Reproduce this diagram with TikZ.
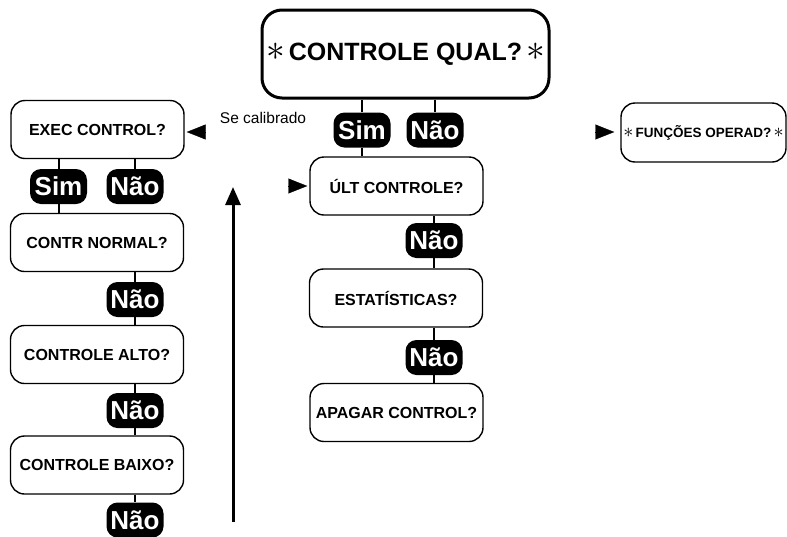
\documentclass[tikz,border=0pt]{standalone}
\usepackage{fontspec}
\setmainfont{Liberation Sans}
\usetikzlibrary{shapes.geometric, arrows.meta}
\tikzstyle{headbox} = [rectangle, rounded corners=20pt, minimum width=287pt, minimum height=88pt, text centered, draw=black, line width=3pt, font=\bfseries\fontsize{25}{30}\selectfont]
\tikzstyle{question} = [rectangle, rounded corners=14pt, minimum width=173pt, minimum height=58pt, inner sep=0pt, text centered, draw=black, line width=1.4pt, font=\bfseries\fontsize{16}{19}\selectfont]
\tikzstyle{answer} = [rectangle, rounded corners=11pt, minimum width=57pt, minimum height=35pt, inner sep=0pt, fill=black, text=white, font=\bfseries\fontsize{26}{30}\selectfont]
\tikzstyle{link} = [line width=2pt]
\tikzstyle{pointer} = [-{Triangle[length=19pt,width=15pt]}]
\tikzstyle{uparrow} = [line width=3pt, -{Triangle[length=18pt,width=15pt]}]
\newcommand{\menustar}[1]{{\mdseries\scalebox{#1}{$\ast$}}}

\begin{document}
\begin{tikzpicture}[x=1pt, y=-1pt]
    \useasboundingbox (0,0) rectangle (787,536);
    % middle column
    \node (head) [headbox] at (405.5,54) {\raisebox{-5pt}{\menustar{1.5}\,CONTROLE QUAL?\,\menustar{1.5}}};
    \node (sim0) [answer] at (362,130) {Sim};
    \node (nao0) [answer] at (435,130) {Não};
    \node (ult) [question] at (396.5,186) {ÚLT CONTROLE?};
    \node (nao1) [answer] at (434,240.5) {Não};
    \node (estat) [question] at (396,298) {ESTATÍSTICAS?};
    \node (nao2) [answer] at (434,357.5) {Não};
    \node (apagar) [question] at (396.5,412.5) {APAGAR CONTROL?};
    % left column
    \node (exec) [question] at (97.5,129.5) {EXEC CONTROL?};
    \node (simL) [answer] at (58.5,186.5) {Sim};
    \node (naoL) [answer] at (135,186.5) {Não};
    \node (normal) [question] at (97,242.5) {CONTR NORMAL?};
    \node (nao3) [answer] at (135,299.5) {Não};
    \node (alto) [question] at (97,354.5) {CONTROLE ALTO?};
    \node (nao4) [answer] at (135,410.5) {Não};
    \node (baixo) [question] at (97,465) {CONTROLE BAIXO?};
    \node (nao5) [answer] at (135,520) {Não};
    % right side
    \node (funcoes) [question, minimum width=165pt, minimum height=59pt, font=\bfseries\fontsize{13.5}{16}\selectfont] at (703.5,132.5) {\menustar{1.4}\,FUNÇÕES OPERAD?\,\menustar{1.4}};
    \node (calib) [font=\fontsize{15.5}{18}\selectfont] at (263,118) {Se calibrado};
    \coordinate (toexec) at (204,132);
    \coordinate (toult) at (289,186);
    \coordinate (tofunc) at (596,132);
    \coordinate (loopbot) at (233,522);
    \coordinate (looptop) at (233,187);
    \draw [link] (head.south -| sim0) -- (sim0.north);
    \draw [link] (sim0.south) -- (ult.north -| sim0);
    \draw [link] (head.south -| nao0) -- (nao0.north);
    \draw [link] (ult.south -| nao1) -- (nao1.north);
    \draw [link] (nao1.south) -- (estat.north -| nao1);
    \draw [link] (estat.south -| nao2) -- (nao2.north);
    \draw [link] (nao2.south) -- (apagar.north -| nao2);
    \draw [link] (exec.south -| simL) -- (simL.north);
    \draw [link] (simL.south) -- (normal.north -| simL);
    \draw [link] (exec.south -| naoL) -- (naoL.north);
    \draw [link] (normal.south -| nao3) -- (nao3.north);
    \draw [link] (nao3.south) -- (alto.north -| nao3);
    \draw [link] (alto.south -| nao4) -- (nao4.north);
    \draw [link] (nao4.south) -- (baixo.north -| nao4);
    \draw [link] (baixo.south -| nao5) -- (nao5.north);
    \draw [pointer, shorten >=2pt] (toexec) -- (toexec -| exec.east);
    \draw [pointer, shorten >=2pt] (toult) -- (toult -| ult.west);
    \draw [pointer, shorten >=6pt] (tofunc) -- (tofunc -| funcoes.west);
    \draw [uparrow] (loopbot) -- (looptop);
\end{tikzpicture}
\end{document}
